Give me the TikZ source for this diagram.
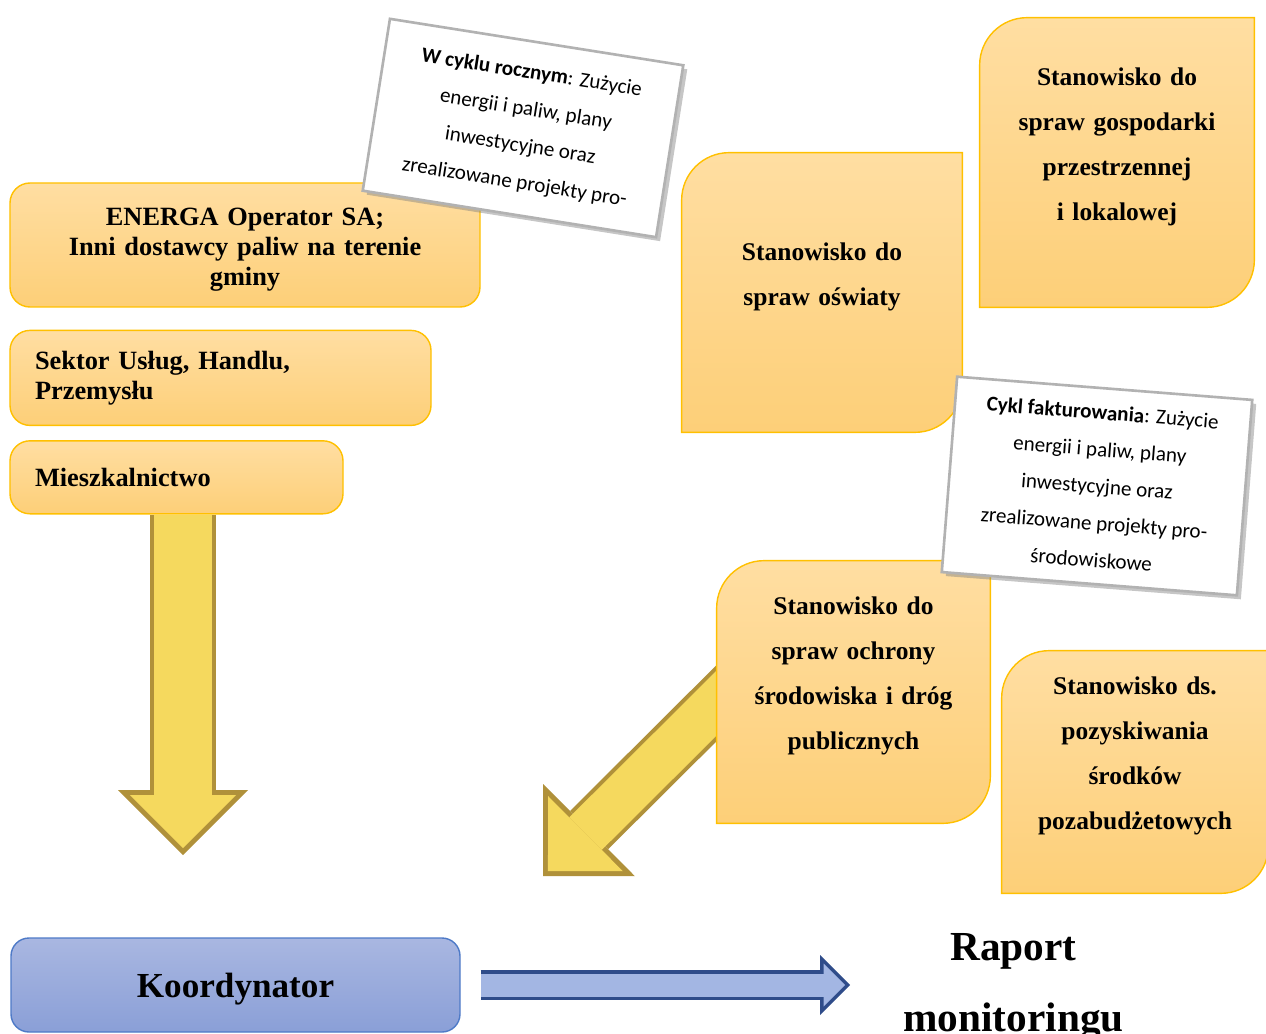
\documentclass[tikz,border=0pt]{standalone}
\usepackage{fontspec}
\setmainfont{Liberation Serif}
\newfontfamily\notefont{Carlito}
\usetikzlibrary{arrows.meta,positioning,shadows,calc}
\definecolor{TileTop}{HTML}{FFDEA2}
\definecolor{TileBot}{HTML}{FDCF78}
\definecolor{TileLine}{HTML}{FFC000}
\definecolor{BlueTop}{HTML}{A9B7E1}
\definecolor{BlueBot}{HTML}{8A9FD7}
\definecolor{BlueLine}{HTML}{4E7AC7}
\definecolor{Gold}{HTML}{F5D95E}
\definecolor{GoldEdge}{HTML}{B0913A}
\definecolor{Steel}{HTML}{A3B6E3}
\definecolor{SteelEdge}{HTML}{2F4C8A}
\pgfdeclarelayer{background}
\pgfsetlayers{background,main}

% tile outline: top left and bottom right corners rounded
\newcommand\tileshape[1]{%
  \path[tilefill] (#1.south west) -- ($(#1.north west)+(0,-.95)$)
    arc[start angle=180,end angle=90,radius=.95] -- (#1.north east)
    -- ($(#1.south east)+(0,.95)$)
    arc[start angle=0,end angle=-90,radius=.95] -- cycle;}
% empty room below the tile text
\newcommand\tilegap{\rule[-.74cm]{0pt}{.74cm}}

\begin{document}
\begin{tikzpicture}[
  box/.style={draw=TileLine,line width=.8pt,rounded corners=.4cm,
    top color=TileTop,bottom color=TileBot,inner sep=0pt,
    font=\fontsize{15}{17}\selectfont\bfseries},
  tile/.style={text width=4.6cm,align=center,inner sep=0pt,
    font=\fontsize{14.5}{25.6}\selectfont\bfseries},
  tilefill/.style={draw=TileLine,line width=.8pt,top color=TileTop,bottom color=TileBot},
  bluebox/.style={draw=BlueLine,line width=.8pt,rounded corners=.36cm,
    top color=BlueTop,bottom color=BlueBot,
    font=\fontsize{20}{24}\selectfont\bfseries},
  note/.style={draw=black!30,line width=1.5pt,fill=white,align=center,
    drop shadow={opacity=.45,shadow xshift=.08cm,shadow yshift=-.08cm},
    font=\notefont\fontsize{12}{21}\selectfont},
  goldedge/.style={draw=GoldEdge,line width=#1,
    -{Triangle[width=2.6cm,length=1.3cm,line width=0pt]}},
  goldcore/.style={draw=Gold,line width=#1,shorten >=.14cm,
    -{Triangle[width=2.12cm,length=1.06cm,line width=0pt]}},
  steeledge/.style={draw=SteelEdge,line width=.6cm,
    -{Triangle[width=1.2cm,length=.6cm,line width=0pt]}},
  steelcore/.style={draw=Steel,line width=.46cm,shorten >=.1cm,
    -{Triangle[width=.86cm,length=.43cm,line width=0pt]}}]
\useasboundingbox (0,0) rectangle (25.32,-20.68);

% left column
\node[box,minimum width=9.4cm,minimum height=2.48cm,text width=8.8cm,align=center]
  (energa) at (4.9,-4.9) {\rule{0pt}{.53cm}ENERGA Operator SA;\\Inni dostawcy paliw na terenie\\gminy};
\node[box,below=.44cm of energa.south west,anchor=north west,minimum width=8.42cm,
  minimum height=1.9cm,text width=7.42cm,align=left] (sektor) {Sektor Usług, Handlu,\\Przemysłu};
\node[box,below=.28cm of sektor.south west,anchor=north west,minimum width=6.66cm,
  minimum height=1.46cm,text width=5.66cm,align=left] (miesz) {Mieszkalnictwo};

% tiles
\node[tile,minimum width=5.48cm,minimum height=5.78cm] (gosp) at (22.34,-3.25)
  {Stanowisko do\\spraw gospodarki\\przestrzennej\\i lokalowej\tilegap};
\node[tile,minimum width=5.6cm,minimum height=5.58cm] (oswiata) at (16.44,-5.85)
  {Stanowisko do\\spraw oświaty\tilegap};
\node[tile,minimum width=5.46cm,minimum height=5.24cm] (ochrona) at (17.07,-13.84)
  {Stanowisko do\\spraw ochrony\\środowiska i dróg\\publicznych\tilegap};
\node[tile,minimum width=5.32cm,minimum height=4.84cm] (pozab) at (22.7,-15.44)
  {Stanowisko ds.\\pozyskiwania\\środków\\pozabudżetowych\tilegap};

% bottom row
\node[bluebox,minimum width=8.98cm,minimum height=1.88cm,text depth=0pt] (koord) at (4.71,-19.7) {Koordynator};
\node[anchor=north,inner sep=0pt,align=center,font=\fontsize{23.5}{40.5}\selectfont\bfseries]
  (raport) at (20.27,-18.66) {Raport\\monitoringu};

% notes
\node[note,rotate=-9,minimum width=5.94cm,minimum height=3.48cm] (roczny) at (10.46,-2.56)
  {\textbf{W cyklu rocznym}: Zużycie\\energii i paliw, plany\\inwestycyjne oraz\\zrealizowane projekty pro-};
\node[note,rotate=-4.5,minimum width=5.92cm,minimum height=3.92cm] (faktury) at (21.94,-9.72)
  {\textbf{Cykl fakturowania}: Zużycie\\energii i paliw, plany\\inwestycyjne oraz\\zrealizowane projekty pro-\\środowiskowe};

\coordinate (downtip) at (3.66,-17.1);
\coordinate (diagtip) at (10.86,-17.52);
\coordinate (righttip) at (17.0,-19.7);

\begin{pgfonlayer}{background}
\draw[goldedge=1.32cm] (miesz.south -| downtip) -- (downtip);
\draw[goldcore=1.16cm] (miesz.south -| downtip) -- (downtip);
\draw[goldedge=1.08cm] ($(ochrona.center)+(-1.23,1.28)$) -- (diagtip);
\draw[goldcore=.92cm] ($(ochrona.center)+(-1.23,1.28)$) -- (diagtip);
\draw[steeledge] ([xshift=.4cm]koord.east) -- (righttip);
\draw[steelcore] ([xshift=.4cm]koord.east) -- (righttip);
\tileshape{gosp}
\tileshape{oswiata}
\tileshape{ochrona}
\tileshape{pozab}
\end{pgfonlayer}
\end{tikzpicture}
\end{document}
